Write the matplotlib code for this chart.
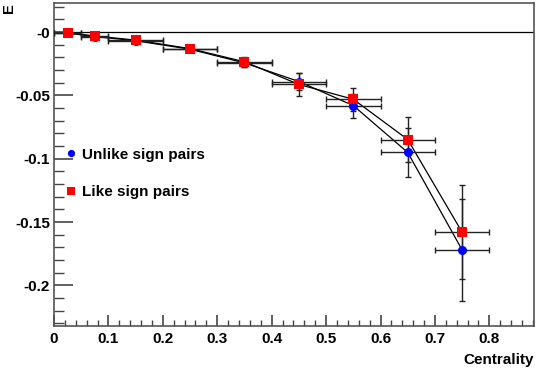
import matplotlib

matplotlib.use("Agg")
import matplotlib.pyplot as plt
from matplotlib.ticker import MultipleLocator

plt.rcParams["font.family"] = ["Liberation Sans", "DejaVu Sans"]
plt.rcParams["font.weight"] = "bold"

centrality = [0.025, 0.075, 0.15, 0.25, 0.35, 0.45, 0.55, 0.65, 0.75]
centrality_err = [0.025, 0.025, 0.05, 0.05, 0.05, 0.05, 0.05, 0.05, 0.05]

unlike_e = [-0.0008, -0.0035, -0.0068, -0.0135, -0.0243, -0.039, -0.058, -0.095, -0.172]
unlike_err = [0.0008, 0.001, 0.001, 0.0015, 0.003, 0.0066, 0.0095, 0.019, 0.040]

like_e = [-0.0005, -0.003, -0.0063, -0.013, -0.0234, -0.0413, -0.053, -0.0848, -0.158]
like_err = [0.0008, 0.001, 0.001, 0.0015, 0.004, 0.009, 0.009, 0.018, 0.037]

x_ticks = [0, 0.1, 0.2, 0.3, 0.4, 0.5, 0.6, 0.7, 0.8]
x_tick_labels = ["0", "0.1", "0.2", "0.3", "0.4", "0.5", "0.6", "0.7", "0.8"]
y_ticks = [0.0, -0.05, -0.1, -0.15, -0.2]
y_tick_labels = ["-0", "-0.05", "-0.1", "-0.15", "-0.2"]

fig = plt.figure(figsize=(5.37, 3.69), dpi=100)
ax = fig.add_axes([54 / 537, 43 / 369, 480 / 537, 323 / 369])

ax.axhline(0, color="black", linewidth=0.9, zorder=1)

for e, err, color, marker, label in [
    (unlike_e, unlike_err, "#0000ff", "o", "Unlike sign pairs"),
    (like_e, like_err, "#ff0000", "s", "Like sign pairs"),
]:
    ax.plot(centrality, e, color="black", linewidth=0.9, zorder=2)
    ax.errorbar(
        centrality, e, xerr=centrality_err, yerr=err,
        fmt="none", ecolor="#222222", elinewidth=1.0, capsize=2, capthick=1.0, zorder=3,
    )
    ax.plot(centrality, e, linestyle="none", marker=marker, markersize=6.5,
            color=color, markeredgewidth=0, zorder=4, label=label)

ax.set_xlim(0, 0.882)
ax.set_ylim(-0.232, 0.023)

ax.set_xticks(x_ticks, x_tick_labels, fontsize=11, fontweight="bold")
ax.set_yticks(y_ticks, y_tick_labels, fontsize=11, fontweight="bold")
ax.xaxis.set_minor_locator(MultipleLocator(0.02))
ax.yaxis.set_minor_locator(MultipleLocator(0.01))

ax.tick_params(axis="both", which="both", direction="in", colors="#444444",
               labelcolor="black", top=False, right=False)
ax.tick_params(axis="x", which="major", length=8, width=1.2, pad=4)
ax.tick_params(axis="x", which="minor", length=4, width=1.0)
ax.tick_params(axis="y", which="major", length=14, width=1.2, pad=3)
ax.tick_params(axis="y", which="minor", length=7, width=1.0)
for spine in ax.spines.values():
    spine.set_color("#555555")
    spine.set_linewidth(1.2)

ax.set_xlabel("Centrality", fontsize=11, fontweight="bold")
ax.xaxis.set_label_coords(1.0, -0.085)
ax.xaxis.label.set_ha("right")
ax.set_ylabel("E", fontsize=10.5, fontweight="bold", rotation=90)
ax.yaxis.set_label_coords(-0.108, 0.985)
ax.yaxis.label.set_va("top")

ax.legend(loc="upper left", bbox_to_anchor=(0.001, 0.585), frameon=False,
          fontsize=11, markerscale=0.8, handlelength=0.8, handletextpad=0.3,
          labelspacing=1.55, borderaxespad=0.3)

fig.savefig("out.png", dpi=100)
